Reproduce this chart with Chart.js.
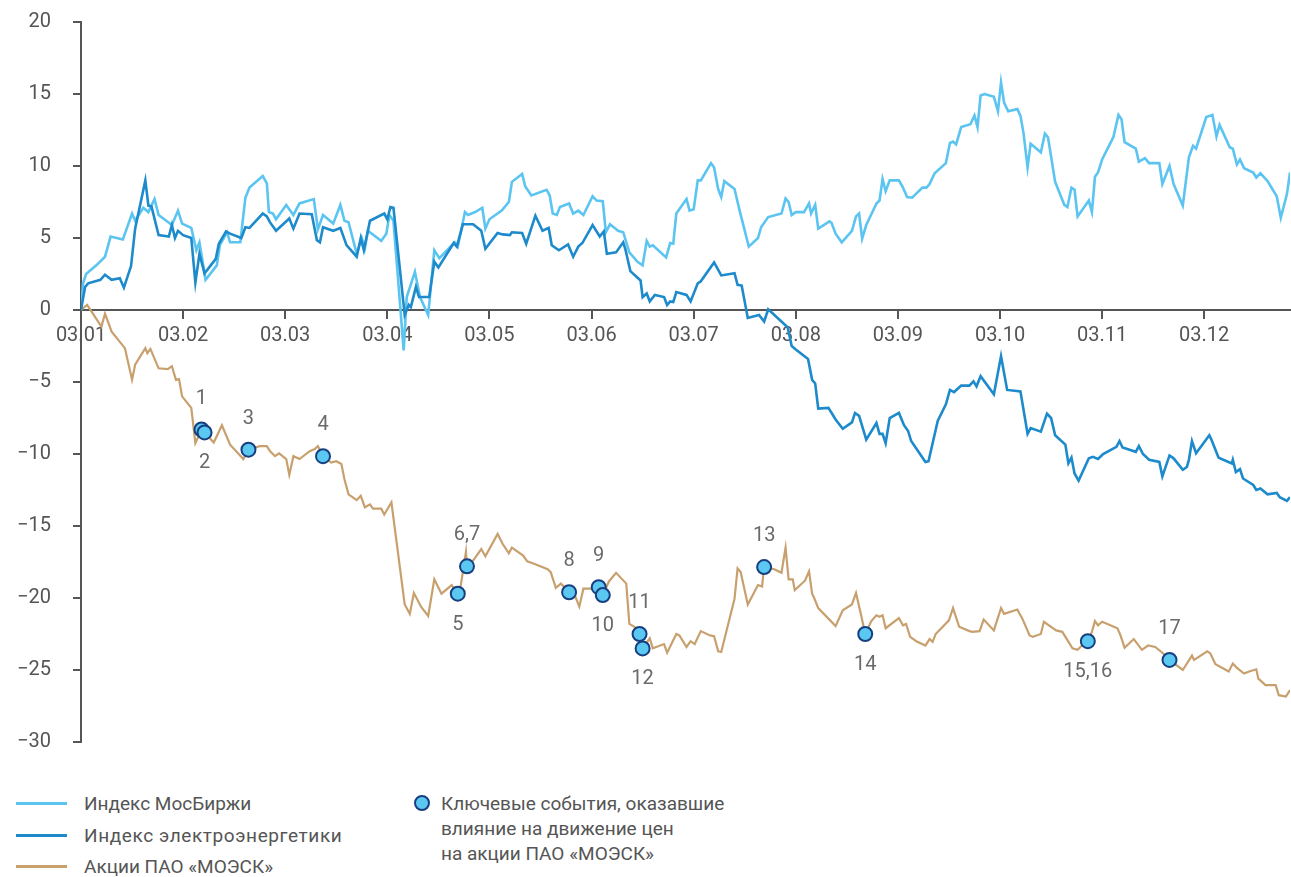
<!DOCTYPE html>
<html>
<head>
<meta charset="utf-8">
<script src="https://cdn.jsdelivr.net/npm/chart.js@4.4.0/dist/chart.umd.min.js"></script>
<style>
  body { margin: 0; background: #fff; font-family: Roboto, sans-serif; }
  #wrap { position: relative; width: 1291px; height: 877px; overflow: hidden; }
  #chart { position: absolute; left: 0; top: 0; }
  .txt { position: absolute; font-size: 19px; color: #555; white-space: nowrap; line-height: 25px; }
  .ln { position: absolute; left: 16px; width: 51px; height: 3px; }
  .dot { position: absolute; width: 12px; height: 12px; border-radius: 50%; background: #5bc8f2; border: 2px solid #173f80; }
</style>
</head>
<body>
<div id="wrap">
  <canvas id="chart" width="1299" height="770"></canvas>

  <div class="ln" style="top:802px;background:#5bc4f1"></div>
  <div class="txt" style="left:84px;top:791px">Индекс МосБиржи</div>
  <div class="ln" style="top:834px;background:#1c8acb"></div>
  <div class="txt" style="left:84px;top:823px;letter-spacing:0.6px">Индекс электроэнергетики</div>
  <div class="ln" style="top:865px;background:#c8a06e"></div>
  <div class="txt" style="left:84px;top:854px">Акции ПАО «МОЭСК»</div>

  <div class="dot" style="left:414px;top:795px"></div>
  <div class="txt" style="left:441px;top:791px">Ключевые события, оказавшие<br>влияние на движение цен<br>на акции ПАО «МОЭСК»</div>
</div>

<script>
// x = months since 03.01
const monthLabels = ['03.01', '03.02', '03.03', '03.04', '03.05', '03.06',
  '03.07', '03.08', '03.09', '03.10', '03.11', '03.12'];

// Индекс МосБиржи
const mosX = [
  0, 0.02, 0.05, 0.15, 0.235, 0.29, 0.41, 0.50, 0.53, 0.61,
  0.66, 0.72, 0.76, 0.89, 0.95, 0.99, 1.08, 1.13, 1.16, 1.22,
  1.33, 1.36, 1.43, 1.46, 1.56, 1.61, 1.65, 1.78, 1.82, 1.84,
  1.88, 1.91, 2.01, 2.08, 2.14, 2.28, 2.32, 2.37, 2.47, 2.54,
  2.58, 2.62, 2.70, 2.75, 2.78, 2.81, 2.94, 2.99, 3.02, 3.06,
  3.16, 3.19, 3.27, 3.32, 3.40, 3.46, 3.51, 3.66, 3.69, 3.76,
  3.79, 3.86, 3.93, 3.96, 4.00, 4.12, 4.19, 4.22, 4.32, 4.35,
  4.41, 4.56, 4.59, 4.62, 4.66, 4.69, 4.78, 4.82, 4.87, 4.92,
  5.01, 5.05, 5.11, 5.14, 5.18, 5.26, 5.31, 5.37, 5.45, 5.50,
  5.54, 5.57, 5.60, 5.73, 5.77, 5.80, 5.83, 5.93, 5.96, 6.00,
  6.04, 6.07, 6.17, 6.20, 6.24, 6.27, 6.30, 6.40, 6.45, 6.54,
  6.63, 6.66, 6.73, 6.86, 6.90, 6.93, 6.96, 7.00, 7.08, 7.13,
  7.15, 7.19, 7.22, 7.33, 7.35, 7.39, 7.45, 7.55, 7.59, 7.62,
  7.65, 7.69, 7.79, 7.82, 7.85, 7.88, 7.92, 8.01, 8.05, 8.09,
  8.14, 8.24, 8.28, 8.31, 8.36, 8.47, 8.51, 8.54, 8.57, 8.62,
  8.71, 8.75, 8.78, 8.81, 8.85, 8.94, 8.98, 9.01, 9.04, 9.08,
  9.17, 9.20, 9.23, 9.27, 9.30, 9.40, 9.44, 9.47, 9.54, 9.63,
  9.66, 9.70, 9.73, 9.76, 9.87, 9.90, 9.93, 9.96, 10.00, 10.11,
  10.16, 10.19, 10.22, 10.33, 10.36, 10.42, 10.46, 10.56, 10.59, 10.66,
  10.70, 10.79, 10.85, 10.89, 10.92, 11.02, 11.08, 11.12, 11.15, 11.25,
  11.28, 11.32, 11.35, 11.39, 11.48, 11.51, 11.55, 11.62, 11.71, 11.75,
  11.81, 11.84
];
const mosY = [
  0, 1.85, 2.5, 3.1, 3.7, 5.1, 4.9, 6.7, 6.2, 7.1,
  6.8, 7.7, 6.6, 5.9, 6.9, 6.0, 5.7, 4.15, 4.7, 2.1,
  3.1, 4.5, 5.4, 4.7, 4.7, 7.8, 8.5, 9.3, 8.8, 6.8,
  6.7, 6.3, 7.3, 6.6, 7.4, 7.7, 5.6, 6.6, 6.0, 7.3,
  6.2, 6.1, 3.9, 5.0, 4.3, 5.5, 4.8, 5.3, 6.6, 6.2,
  -2.8, 0.9, 2.65, 0.9, -0.35, 4.15, 3.6, 4.7, 4.4, 6.8,
  6.6, 6.8, 7.1, 5.65, 6.3, 6.9, 7.5, 8.9, 9.45, 8.6,
  7.95, 8.35, 7.95, 6.7, 6.6, 7.15, 7.4, 6.7, 6.9, 6.6,
  7.9, 7.6, 7.55, 5.4, 5.95, 5.5, 5.4, 4.0, 3.35, 3.1,
  4.8, 4.4, 4.5, 3.65, 4.65, 4.6, 6.7, 7.7, 6.9, 7.0,
  9.0, 9.0, 10.2, 9.9, 8.4, 7.85, 8.95, 8.4, 6.9, 4.4,
  5.0, 5.75, 6.45, 6.7, 7.75, 7.5, 6.6, 6.8, 6.8, 7.4,
  6.7, 7.3, 5.65, 6.15, 6.05, 5.3, 4.7, 5.5, 6.5, 6.7,
  4.95, 5.9, 7.4, 7.6, 9.1, 8.25, 9.0, 9.0, 8.5, 7.85,
  7.8, 8.5, 8.5, 8.75, 9.5, 10.2, 11.6, 11.7, 11.5, 12.7,
  12.9, 13.5, 12.7, 14.9, 15.0, 14.8, 13.8, 15.8, 14.4, 13.8,
  13.95, 13.5, 12.3, 9.9, 11.55, 10.95, 12.25, 12.0, 8.9, 7.3,
  7.15, 8.5, 8.35, 6.5, 7.6, 6.8, 9.25, 9.55, 10.45, 12.0,
  13.55, 13.25, 11.65, 11.2, 10.3, 10.55, 10.2, 10.2, 8.75, 10.0,
  8.75, 7.25, 10.6, 11.4, 11.2, 13.4, 13.55, 12.05, 12.85, 11.3,
  11.2, 10.1, 10.45, 9.85, 9.55, 9.2, 9.5, 8.95, 7.9, 6.4,
  8.05, 9.55
];

// Индекс электроэнергетики
const elX = [
  0, 0.04, 0.07, 0.19, 0.235, 0.30, 0.38, 0.42, 0.49, 0.53,
  0.63, 0.66, 0.69, 0.76, 0.86, 0.89, 0.92, 0.95, 1.00, 1.08,
  1.12, 1.16, 1.21, 1.32, 1.35, 1.42, 1.46, 1.57, 1.61, 1.65,
  1.78, 1.82, 1.85, 1.91, 2.04, 2.08, 2.14, 2.26, 2.31, 2.34,
  2.37, 2.47, 2.54, 2.60, 2.70, 2.74, 2.77, 2.83, 2.97, 3.00,
  3.03, 3.06, 3.17, 3.21, 3.23, 3.28, 3.31, 3.41, 3.46, 3.50,
  3.65, 3.68, 3.74, 3.84, 3.92, 3.96, 4.08, 4.13, 4.20, 4.22,
  4.32, 4.36, 4.45, 4.52, 4.58, 4.61, 4.68, 4.77, 4.82, 4.87,
  4.91, 5.01, 5.08, 5.12, 5.15, 5.24, 5.31, 5.33, 5.38, 5.48,
  5.50, 5.54, 5.57, 5.62, 5.71, 5.74, 5.77, 5.80, 5.83, 5.93,
  5.97, 6.04, 6.07, 6.20, 6.27, 6.40, 6.43, 6.47, 6.53, 6.64,
  6.69, 6.73, 6.92, 6.96, 7.00, 7.12, 7.16, 7.19, 7.22, 7.32,
  7.39, 7.46, 7.55, 7.58, 7.62, 7.69, 7.79, 7.82, 7.85, 7.88,
  7.92, 8.01, 8.06, 8.10, 8.13, 8.27, 8.30, 8.39, 8.47, 8.51,
  8.55, 8.62, 8.70, 8.74, 8.77, 8.81, 8.94, 9.01, 9.07, 9.20,
  9.27, 9.30, 9.40, 9.46, 9.50, 9.54, 9.64, 9.67, 9.70, 9.73,
  9.77, 9.87, 9.91, 9.96, 10.01, 10.14, 10.17, 10.20, 10.33, 10.36,
  10.40, 10.46, 10.56, 10.59, 10.66, 10.70, 10.79, 10.83, 10.85, 10.88,
  10.92, 11.05, 11.07, 11.14, 11.17, 11.27, 11.28, 11.31, 11.35, 11.38,
  11.48, 11.51, 11.55, 11.62, 11.71, 11.74, 11.81, 11.84
];
const elY = [
  0, 1.6, 1.85, 2.1, 2.45, 2.1, 2.2, 1.55, 3.05, 5.65,
  9.0, 7.25, 7.2, 5.2, 5.1, 5.9, 5.0, 5.5, 5.2, 5.0,
  1.9, 3.9, 2.55, 3.55, 4.6, 5.45, 5.3, 5.0, 5.75, 5.7,
  6.7, 6.5, 6.1, 5.5, 6.35, 5.65, 6.7, 6.65, 4.85, 4.7,
  5.75, 5.5, 5.7, 4.5, 3.7, 5.0, 4.15, 6.2, 6.7, 6.3,
  7.15, 7.1, -0.35, 0.35, 0.2, 1.6, 0.9, 0.9, 3.35, 2.95,
  4.65, 4.4, 5.95, 5.95, 5.5, 4.25, 5.35, 5.25, 5.2, 5.4,
  5.35, 4.6, 6.55, 5.5, 5.7, 4.5, 4.15, 4.55, 3.7, 4.4,
  4.65, 5.9, 5.1, 5.45, 3.9, 4.0, 4.7, 4.25, 2.7, 2.05,
  0.9, 1.15, 0.6, 1.05, 0.9, 0.35, 0.6, 0.55, 1.25, 1.05,
  0.6, 1.85, 2.0, 3.3, 2.4, 2.55, 1.75, 1.7, -0.55, -0.35,
  -0.8, 0.05, -1.2, -2.5, -2.75, -3.4, -4.85, -5.1, -6.85, -6.8,
  -7.6, -8.25, -7.8, -7.15, -7.35, -9.0, -7.85, -8.6, -8.6, -9.25,
  -7.5, -7.15, -8.0, -8.4, -9.1, -10.55, -10.5, -7.7, -6.55, -5.55,
  -5.7, -5.25, -5.25, -4.95, -5.3, -4.6, -5.85, -3.2, -5.55, -5.65,
  -8.6, -8.2, -8.45, -7.2, -7.5, -8.7, -9.35, -10.65, -10.25, -11.35,
  -11.85, -10.3, -10.2, -10.35, -10.0, -9.5, -9.1, -9.55, -9.85, -9.45,
  -10.0, -10.4, -10.55, -11.55, -10.1, -10.3, -11.1, -10.9, -10.4, -9.1,
  -9.95, -8.7, -9.0, -10.25, -10.35, -10.65, -10.4, -11.25, -11.05, -11.7,
  -12.15, -12.5, -12.4, -12.8, -12.7, -13.0, -13.25, -13.0
];

// Акции ПАО «МОЭСК»
const moeskX = [
  0, 0.06, 0.20, 0.235, 0.30, 0.43, 0.50, 0.53, 0.63, 0.65,
  0.68, 0.76, 0.85, 0.89, 0.93, 0.96, 0.99, 1.08, 1.12, 1.18,
  1.21, 1.30, 1.38, 1.46, 1.59, 1.64, 1.75, 1.82, 1.85, 1.90,
  1.94, 2.01, 2.04, 2.08, 2.14, 2.24, 2.29, 2.32, 2.37, 2.45,
  2.50, 2.55, 2.58, 2.62, 2.70, 2.74, 2.78, 2.83, 2.86, 2.94,
  2.97, 3.04, 3.17, 3.22, 3.26, 3.33, 3.40, 3.46, 3.53, 3.63,
  3.69, 3.72, 3.77, 3.78, 3.84, 3.92, 3.96, 4.08, 4.13, 4.19,
  4.22, 4.33, 4.37, 4.43, 4.57, 4.60, 4.65, 4.70, 4.78, 4.83,
  4.88, 4.92, 5.01, 5.07, 5.11, 5.17, 5.24, 5.34, 5.37, 5.42,
  5.47, 5.50, 5.57, 5.60, 5.71, 5.74, 5.83, 5.86, 5.93, 5.97,
  6.01, 6.07, 6.16, 6.20, 6.24, 6.27, 6.40, 6.43, 6.46, 6.53,
  6.63, 6.67, 6.69, 6.79, 6.86, 6.90, 6.93, 6.97, 6.99, 7.09,
  7.13, 7.16, 7.18, 7.22, 7.39, 7.46, 7.55, 7.59, 7.64, 7.68,
  7.74, 7.79, 7.82, 7.85, 7.88, 8.01, 8.05, 8.08, 8.12, 8.18,
  8.27, 8.31, 8.34, 8.37, 8.50, 8.54, 8.60, 8.70, 8.73, 8.80,
  8.84, 8.94, 9.01, 9.04, 9.17, 9.22, 9.29, 9.32, 9.40, 9.43,
  9.55, 9.61, 9.71, 9.76, 9.81, 9.86, 9.90, 9.93, 9.96, 10.00,
  10.15, 10.18, 10.22, 10.31, 10.39, 10.45, 10.52, 10.59, 10.66, 10.79,
  10.88, 10.90, 11.03, 11.06, 11.11, 11.24, 11.28, 11.32, 11.39, 11.44,
  11.51, 11.53, 11.60, 11.70, 11.73, 11.80, 11.84
];
const moeskY = [
  0, 0.35, -1.15, -0.25, -1.5, -2.65, -4.85, -3.8, -2.65, -3.0,
  -2.7, -4.05, -4.1, -3.9, -4.85, -4.8, -6.0, -6.8, -9.25, -8.3,
  -8.5, -9.2, -8.0, -9.35, -10.35, -9.7, -9.45, -9.45, -9.8, -10.15,
  -9.95, -10.35, -11.45, -10.15, -10.35, -9.8, -9.65, -9.45, -10.15, -10.6,
  -10.5, -10.7, -11.75, -12.8, -13.2, -12.9, -13.7, -13.5, -13.8, -13.8,
  -14.2, -13.35, -20.45, -21.1, -19.65, -20.6, -21.25, -18.7, -19.7, -19.1,
  -19.7, -19.1, -16.8, -17.8, -17.4, -16.6, -17.1, -15.55, -16.25, -16.9,
  -16.5, -17.05, -17.45, -17.6, -18.0, -18.2, -19.3, -19.0, -19.6, -19.7,
  -20.6, -19.35, -19.35, -19.25, -19.8, -18.85, -18.25, -19.0, -21.8, -22.0,
  -22.5, -23.5, -22.8, -23.5, -23.2, -23.8, -22.5, -22.6, -23.4, -23.0,
  -23.2, -22.3, -22.6, -22.65, -23.7, -23.75, -20.05, -17.95, -18.2, -20.45,
  -19.1, -19.2, -17.85, -18.0, -18.25, -16.5, -18.7, -18.7, -19.45, -18.8,
  -18.15, -19.7, -20.0, -20.7, -21.95, -20.85, -20.45, -19.65, -21.2, -22.5,
  -21.6, -21.2, -21.3, -21.2, -22.1, -21.4, -21.9, -21.8, -22.7, -23.0,
  -23.3, -22.85, -23.05, -22.5, -21.55, -20.7, -22.0, -22.3, -22.35, -22.3,
  -21.5, -22.25, -20.7, -21.1, -20.8, -21.45, -22.6, -22.7, -22.5, -21.65,
  -22.25, -22.35, -23.5, -23.6, -23.25, -23.0, -22.35, -21.6, -21.9, -21.65,
  -22.1, -22.6, -23.45, -22.85, -23.6, -23.3, -23.4, -23.8, -24.3, -25.0,
  -24.0, -24.3, -23.7, -23.85, -24.6, -25.1, -24.55, -24.85, -25.25, -25.1,
  -24.95, -25.6, -26.05, -26.05, -26.75, -26.85, -26.4
];

// Ключевые события
const eventX = [1.18, 1.21, 1.64, 2.37, 3.69, 3.78, 4.78, 5.07, 5.11, 5.47, 5.50, 6.69, 7.68, 9.86, 10.66];
const eventY = [-8.3, -8.5, -9.7, -10.15, -19.7, -17.8, -19.6, -19.25, -19.8, -22.5, -23.5, -17.85, -22.5, -23.0, -24.3];
const eventLabels = ['1', '2', '3', '4', '5', '6,7', '8', '9', '10', '11', '12', '13', '14', '15,16', '17'];
const eventSide = ['up', 'down', 'up', 'up', 'down', 'up', 'up', 'up', 'down', 'up', 'down', 'up', 'down', 'down', 'up'];

function toPoints(xs, ys) {
  return xs.map((x, i) => ({ x: x, y: ys[i] }));
}

const axisColor = '#555';
const tickFont = { family: 'Roboto', size: 20 };

// numbers next to the event markers
const eventLabelPlugin = {
  id: 'eventLabels',
  afterDatasetsDraw(chart) {
    const meta = chart.getDatasetMeta(0);
    const c = chart.ctx;
    c.save();
    c.font = '20px Roboto';
    c.fillStyle = '#6a6a6a';
    c.textAlign = 'center';
    c.textBaseline = 'middle';
    meta.data.forEach((pt, i) => {
      const dy = eventSide[i] === 'up' ? -31 : 31;
      c.fillText(eventLabels[i], pt.x, pt.y + dy);
    });
    c.restore();
  }
};

new Chart(document.getElementById('chart').getContext('2d'), {
  type: 'scatter',
  data: {
    datasets: [
      {
        label: 'Ключевые события',
        data: toPoints(eventX, eventY),
        pointRadius: 7,
        pointBackgroundColor: '#5bc8f2',
        pointBorderColor: '#173f80',
        pointBorderWidth: 2,
        showLine: false,
        order: 0
      },
      {
        label: 'Индекс электроэнергетики',
        data: toPoints(elX, elY),
        showLine: true,
        borderColor: '#1c8acb',
        borderWidth: 2.6,
        pointRadius: 0,
        tension: 0,
        order: 1
      },
      {
        label: 'Индекс МосБиржи',
        data: toPoints(mosX, mosY),
        showLine: true,
        borderColor: '#5bc4f1',
        borderWidth: 2.6,
        pointRadius: 0,
        tension: 0,
        order: 2
      },
      {
        label: 'Акции ПАО «МОЭСК»',
        data: toPoints(moeskX, moeskY),
        showLine: true,
        borderColor: '#c8a06e',
        borderWidth: 2.2,
        pointRadius: 0,
        tension: 0,
        order: 3
      }
    ]
  },
  options: {
    responsive: false,
    animation: false,
    layout: { padding: { top: 22, right: 0, bottom: 28, left: 0 } },
    plugins: {
      legend: { display: false },
      tooltip: { enabled: false }
    },
    scales: {
      x: {
        type: 'linear',
        position: { y: 0 },
        min: 0,
        max: 11.84,
        border: { color: axisColor, width: 2 },
        grid: { drawOnChartArea: false, drawTicks: true, tickLength: 8, color: axisColor, lineWidth: 2 },
        ticks: {
          stepSize: 1,
          includeBounds: false,
          autoSkip: false,
          maxRotation: 0,
          padding: 6,
          color: axisColor,
          font: tickFont,
          callback: v => monthLabels[v] || ''
        }
      },
      y: {
        min: -30,
        max: 20,
        afterFit: scale => {
          scale.width = 81;
          // big label gap should not push the plot area in
          scale.paddingTop = 0;
          scale.paddingBottom = 0;
        },
        border: { color: axisColor, width: 2 },
        grid: { drawOnChartArea: false, drawTicks: true, tickLength: 8, color: axisColor, lineWidth: 2 },
        ticks: {
          stepSize: 5,
          padding: 22,
          color: axisColor,
          font: tickFont,
          callback: v => v < 0 ? '\u2212' + Math.abs(v) : String(v)
        }
      }
    }
  },
  plugins: [eventLabelPlugin]
});
</script>
</body>
</html>
